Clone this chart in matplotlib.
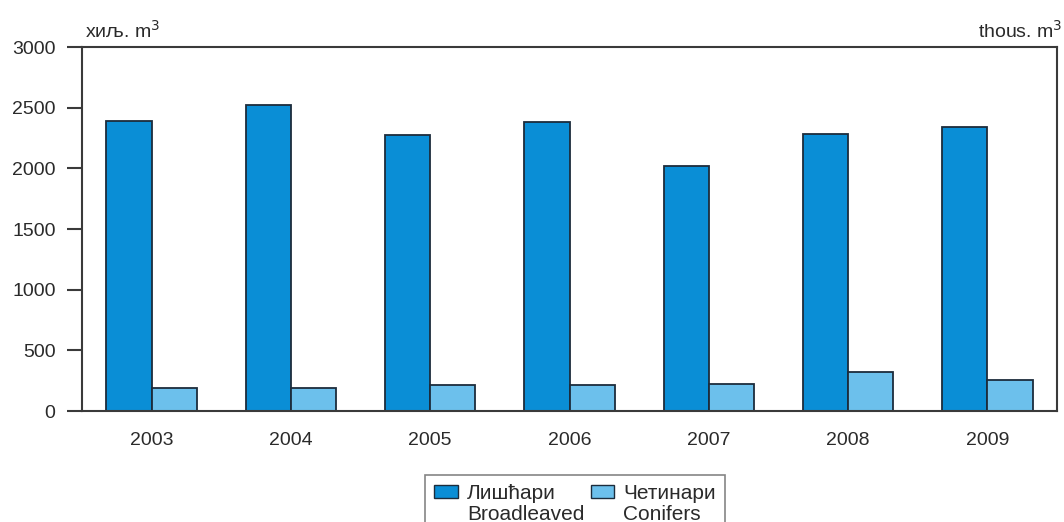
import matplotlib
matplotlib.use("Agg")
import matplotlib.pyplot as plt
from matplotlib.patches import Rectangle
import numpy as np

plt.rcParams['font.family'] = ['Liberation Sans', 'DejaVu Sans']

years = ['2003', '2004', '2005', '2006', '2007', '2008', '2009']
broadleaved = [2390, 2522, 2275, 2385, 2020, 2283, 2341]
conifers = [190, 190, 214, 217, 220, 321, 253]
names_sr = ['Лишћари', 'Четинари']
names_en = ['Broadleaved', 'Conifers']
yticks = [0, 500, 1000, 1500, 2000, 2500, 3000]

c_broad = '#0a8ed6'
c_conif = '#6cc0ec'
edge = '#1c2c3c'
txt = '#2a2a2a'

fig = plt.figure(figsize=(10.64, 5.22), dpi=100)
ax = fig.add_axes([82/1064, 1-411/522, (1057-82)/1064, (411-47)/522])

x = np.arange(len(years))
w = 0.325
ax.bar(x - w/2, broadleaved, w, color=c_broad, edgecolor=edge, linewidth=1.3)
ax.bar(x + w/2, conifers, w, color=c_conif, edgecolor=edge, linewidth=1.3)

ax.set_xlim(-0.5, len(years) - 0.5)
ax.set_ylim(0, 3000)
ax.set_yticks(yticks)
ax.set_yticklabels([str(v) for v in yticks], fontsize=14, color=txt)
ax.set_xticks(x)
ax.set_xticklabels(years, fontsize=14, color=txt)
ax.tick_params(axis='x', length=0, pad=15)
ax.tick_params(axis='y', length=11, width=1.5, color='#3a3a3a', pad=8, direction='out')
for s in ax.spines.values():
    s.set_color('#3a3a3a')
    s.set_linewidth(1.5)

fig.text(85/1064, 1-31/522, 'хиљ. m$^3$', fontsize=14, ha='left', va='center', color=txt)
fig.text(1063/1064, 1-31/522, 'thous. m$^3$', fontsize=14, ha='right', va='center', color=txt)

blank = Rectangle((0, 0), 1, 1, facecolor='none', edgecolor='none')
h1 = Rectangle((0, 0), 1, 1, facecolor=c_broad, edgecolor=edge, linewidth=1.0)
h2 = Rectangle((0, 0), 1, 1, facecolor=c_conif, edgecolor=edge, linewidth=1.0)
handles = [h1, blank, h2, blank]
labels = [names_sr[0], names_en[0], names_sr[1], names_en[1]]
leg = fig.legend(handles, labels, loc='upper center', bbox_to_anchor=(575/1064, 1-475/522), ncol=2,
                 fontsize=15, frameon=True, fancybox=False, edgecolor='#666666',
                 handlelength=1.15, handleheight=0.62, handletextpad=0.43, columnspacing=0.3,
                 borderpad=0.42, labelspacing=0.1, borderaxespad=0)
for t in leg.get_texts():
    t.set_color(txt)
leg.get_frame().set_linewidth(1.2)

fig.savefig('out.png', dpi=100)
